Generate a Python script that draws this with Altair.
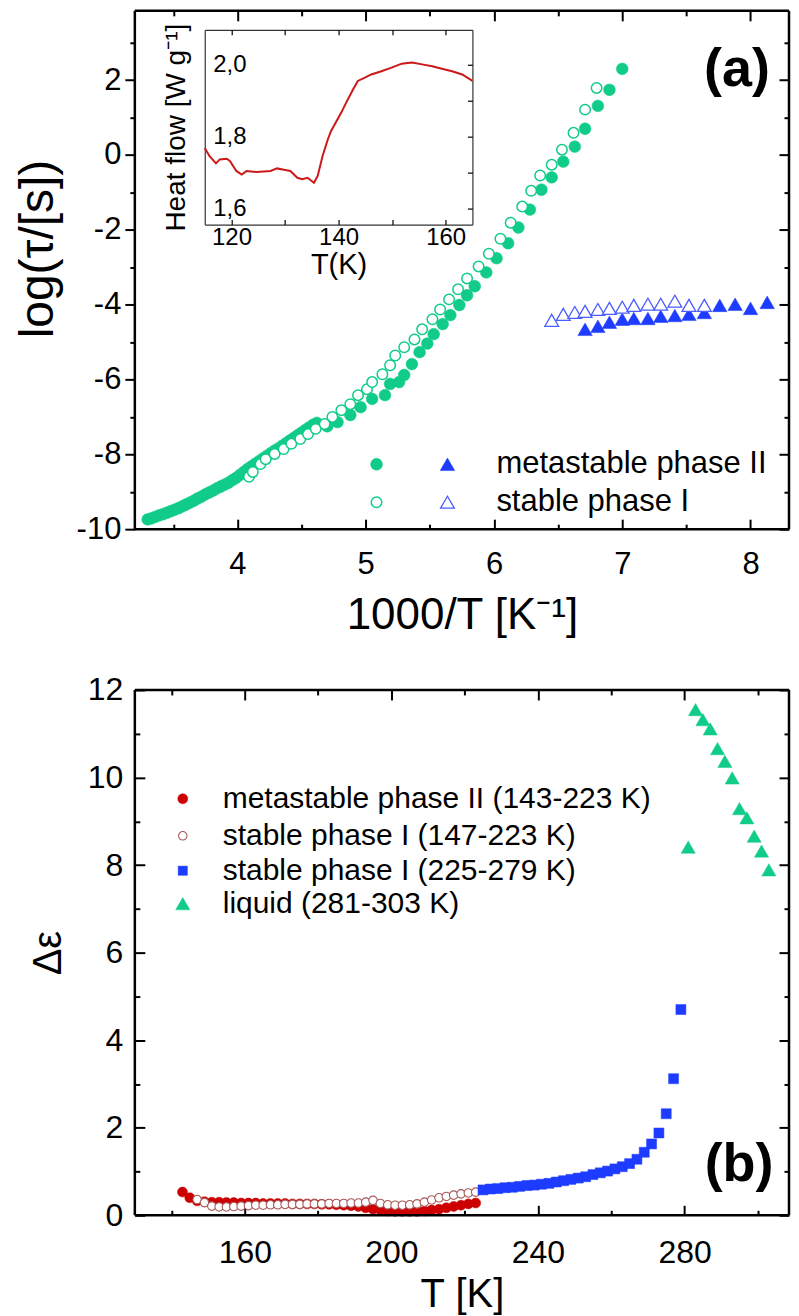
import altair as alt
import pandas as pd

FONT = "Liberation Sans"
GREEN = "#10cc88"
BLUE = "#1d3cff"
BLUE_OPEN = "#4b5dff"
RED = "#cc0000"
RED_OPEN = "#a85a5a"
DSC_RED = "#cc1818"

# ---------------- panel (a): log(tau) vs 1000/T ----------------
a_phase2_x = [3.30, 3.33, 3.36, 3.39, 3.42, 3.45, 3.48, 3.51, 3.54, 3.57, 3.60, 3.63, 3.66, 3.69, 3.72,
              3.75, 3.78, 3.81, 3.84, 3.87, 3.90, 3.93, 3.96, 3.99, 4.02, 4.05, 4.08, 4.11, 4.14, 4.17,
              4.20, 4.23, 4.26, 4.29, 4.32, 4.35, 4.38, 4.41, 4.44, 4.47, 4.50, 4.53, 4.56, 4.59, 4.62,
              4.70, 4.78, 4.88, 4.96, 5.05, 5.15, 5.19, 5.26, 5.30, 5.36, 5.42, 5.48, 5.53, 5.60, 5.66,
              5.73, 5.79, 5.85, 5.94, 6.02, 6.11, 6.19, 6.28, 6.37, 6.45, 6.54, 6.63, 6.71, 6.81, 6.90, 7.00]
a_phase2_y = [-9.74, -9.71, -9.67, -9.63, -9.60, -9.56, -9.52, -9.48, -9.44, -9.39, -9.34, -9.29, -9.24, -9.18, -9.13,
              -9.07, -9.02, -8.97, -8.91, -8.86, -8.81, -8.76, -8.69, -8.63, -8.55, -8.47, -8.39, -8.32, -8.25, -8.18,
              -8.11, -8.04, -7.97, -7.90, -7.84, -7.77, -7.70, -7.63, -7.56, -7.49, -7.42, -7.35, -7.28, -7.21, -7.16,
              -7.25, -7.14, -6.95, -6.74, -6.52, -6.42, -6.12, -6.07, -5.88, -5.59, -5.27, -5.04, -4.79, -4.52, -4.28,
              -4.01, -3.75, -3.51, -3.14, -2.76, -2.36, -1.94, -1.46, -0.93, -0.60, -0.18, 0.22, 0.70, 1.31, 1.74, 2.30]
a_phase1_x = [4.09, 4.12, 4.18, 4.22, 4.29, 4.36, 4.42, 4.49, 4.55, 4.61, 4.68, 4.74, 4.81, 4.88, 4.94,
              5.01, 5.05, 5.13, 5.19, 5.23, 5.30, 5.38, 5.44, 5.52, 5.58, 5.65, 5.72, 5.79, 5.88, 5.96,
              6.05, 6.13, 6.22, 6.29, 6.36, 6.45, 6.53, 6.62, 6.71, 6.80]
a_phase1_y = [-8.60, -8.47, -8.26, -8.13, -7.99, -7.86, -7.72, -7.59, -7.46, -7.32, -7.19, -7.00, -6.82, -6.66, -6.42,
              -6.26, -6.07, -5.86, -5.62, -5.36, -5.14, -4.93, -4.66, -4.39, -4.13, -3.86, -3.59, -3.30, -2.98, -2.64,
              -2.24, -1.81, -1.38, -0.96, -0.55, -0.26, 0.14, 0.59, 1.21, 1.79]
a_tri2_x = [6.71, 6.81, 6.90, 7.00, 7.09, 7.20, 7.30, 7.41, 7.52, 7.64, 7.76, 7.88, 8.00, 8.13]
a_tri2_y = [-4.66, -4.58, -4.47, -4.39, -4.37, -4.37, -4.31, -4.29, -4.26, -4.21, -4.02, -3.99, -4.10, -3.94]
a_tri1_x = [6.45, 6.54, 6.63, 6.71, 6.81, 6.90, 7.00, 7.09, 7.20, 7.30, 7.41, 7.52, 7.64]
a_tri1_y = [-4.42, -4.26, -4.21, -4.18, -4.13, -4.10, -4.07, -4.02, -3.99, -3.99, -3.91, -4.02, -4.02]
a_legend = ["metastable phase II", "stable phase I"]
a_xlim = [3.2, 8.3]
a_ylim = [-10, 3.85]
a_xmaj = [4, 5, 6, 7, 8]
a_xmin = [3.5, 4.5, 5.5, 6.5, 7.5]
a_ymaj = [-10, -8, -6, -4, -2, 0, 2]
a_ymin = [-9, -7, -5, -3, -1, 1, 3]

# inset: DSC heat flow
dsc_T = [115.0, 115.9, 117.1, 117.8, 119.1, 119.7, 120.9, 121.9, 122.8, 124.7, 127.3, 128.5, 129.8,
         131.0, 132.3, 133.2, 134.2, 135.4, 136.1, 137.0, 138.0, 138.6, 139.5, 140.5, 141.4, 142.7,
         143.6, 144.9, 146.1, 148.0, 149.9, 151.8, 153.7, 155.6, 157.5, 159.3, 161.2, 163.1, 165.0]
dsc_hf = [1.769, 1.746, 1.726, 1.737, 1.739, 1.733, 1.705, 1.695, 1.705, 1.702, 1.705, 1.712, 1.708,
          1.705, 1.686, 1.682, 1.686, 1.672, 1.691, 1.746, 1.793, 1.816, 1.840, 1.867, 1.894, 1.931,
          1.955, 1.964, 1.973, 1.982, 1.992, 2.003, 2.006, 2.001, 1.996, 1.989, 1.982, 1.973, 1.955]
i_xmaj = [120, 140, 160]
i_xticks = [120, 130, 140, 150, 160]
i_ymaj = [1.6, 1.8, 2.0]
i_yticks = [1.6, 1.7, 1.8, 1.9, 2.0]

# ---------------- panel (b): delta epsilon vs T ----------------
b_m2_T = [143, 145, 147, 149, 151, 153, 155, 157, 159, 161, 163, 165, 167, 169, 171, 173, 175, 177, 179, 181,
          183, 185, 187, 189, 191, 193, 195, 197, 199, 201, 203, 205, 207, 209, 211, 213, 215, 217, 219, 221, 223]
b_m2_e = [0.53, 0.40, 0.33, 0.31, 0.30, 0.30, 0.29, 0.29, 0.28, 0.28, 0.28, 0.27, 0.27, 0.27, 0.27, 0.26, 0.26,
          0.26, 0.26, 0.25, 0.25, 0.24, 0.23, 0.22, 0.20, 0.17, 0.14, 0.12, 0.10, 0.09, 0.09, 0.09, 0.09, 0.10,
          0.12, 0.14, 0.17, 0.20, 0.23, 0.26, 0.28]
b_s1_T = [147, 149, 151, 153, 155, 157, 159, 161, 163, 165, 167, 169, 171, 173, 175, 177, 179, 181, 183, 185,
          187, 189, 191, 193, 195, 197, 199, 201, 203, 205, 207, 209, 211, 213, 215, 217, 219, 221, 223]
b_s1_e = [0.36, 0.29, 0.21, 0.19, 0.19, 0.20, 0.21, 0.22, 0.23, 0.23, 0.24, 0.24, 0.25, 0.25, 0.25, 0.26, 0.26,
          0.26, 0.27, 0.27, 0.27, 0.28, 0.28, 0.30, 0.34, 0.27, 0.24, 0.23, 0.23, 0.24, 0.26, 0.30, 0.35, 0.40,
          0.43, 0.46, 0.49, 0.51, 0.53]
b_s1h_T = [225, 227, 229, 231, 233, 235, 237, 239, 241, 243, 245, 247, 249, 251, 253, 255, 257, 259, 261, 263,
           265, 267, 269, 271, 273, 275, 277, 279]
b_s1h_e = [0.58, 0.60, 0.61, 0.63, 0.64, 0.66, 0.68, 0.69, 0.71, 0.73, 0.76, 0.79, 0.82, 0.85, 0.88, 0.93, 0.97,
           1.01, 1.06, 1.11, 1.18, 1.28, 1.44, 1.63, 1.88, 2.32, 3.12, 4.70]
b_liq_T = [281, 283, 285, 287, 289, 291, 293, 295, 297, 299, 301, 303]
b_liq_e = [8.41, 11.55, 11.32, 11.11, 10.66, 10.37, 9.99, 9.29, 9.08, 8.66, 8.32, 7.89]
b_legend = ["metastable phase II (143-223 K)", "stable phase I (147-223 K)",
            "stable phase I (225-279 K)", "liquid (281-303 K)"]
b_xlim = [130, 308.5]
b_ylim = [0, 12]
b_xmaj = [160, 200, 240, 280]
b_xmin = [140, 180, 220, 260, 300]
b_ymaj = [0, 2, 4, 6, 8, 10, 12]
b_ymin = [1, 3, 5, 7, 9, 11]

# ---------------- helpers ----------------
WA, HA = 655, 519
WB, HB = 655, 526
one = pd.DataFrame({"k": [0]})
NUM = "'' + datum.value"


def df(x, y):
    return pd.DataFrame({"x": x, "y": y})


def axis(orient, values, **kw):
    spec = dict(orient=orient, values=values, grid=False, domain=False,
                tickColor="black", tickWidth=2, labelFont=FONT, labelColor="black",
                titleFont=FONT, titleColor="black", titleFontWeight="normal", labelFlush=False)
    spec.update(kw)
    return alt.Axis(**spec)


def tick_axis(orient, values, size, width=2):
    return axis(orient, values, labels=False, tickSize=size, offset=-size, tickWidth=width, title=None)


def pts(data, xs, ys, xa, ya, shape, size, fill, stroke, sw, opacity=1.0):
    return alt.Chart(data).mark_point(
        shape=shape, size=size, fill=fill, stroke=stroke, strokeWidth=sw,
        fillOpacity=1, strokeOpacity=1, opacity=opacity
    ).encode(x=alt.X("x:Q", scale=xs, axis=xa), y=alt.Y("y:Q", scale=ys, axis=ya))


def sym(x, y, shape, size, fill, stroke, sw):
    return alt.Chart(one).mark_point(
        shape=shape, size=size, fill=fill, stroke=stroke, strokeWidth=sw, fillOpacity=1, strokeOpacity=1
    ).encode(x=alt.value(x), y=alt.value(y))


def txt(x, y, s, size, weight="normal", align="left"):
    return alt.Chart(one).mark_text(
        text=s, font=FONT, fontSize=size, fontWeight=weight, align=align, baseline="middle", color="black"
    ).encode(x=alt.value(x), y=alt.value(y))


def frame_rules(xlim, ylim, xs, ys, w, h):
    vert = alt.Chart(pd.DataFrame({"x": xlim})).mark_rule(color="black", strokeWidth=2.5).encode(
        x=alt.X("x:Q", scale=xs, axis=None), y=alt.value(0), y2=alt.value(h))
    horiz = alt.Chart(pd.DataFrame({"y": ylim})).mark_rule(color="black", strokeWidth=2.5).encode(
        y=alt.Y("y:Q", scale=ys, axis=None), x=alt.value(0), x2=alt.value(w))
    return [vert, horiz]


# ---------------- panel (a) ----------------
XA = alt.Scale(domain=a_xlim, nice=False, zero=False)
YA = alt.Scale(domain=a_ylim, nice=False, zero=False)

ax_lab = axis("bottom", a_xmaj, ticks=False, tickSize=0, labelPadding=20, labelFontSize=31,
              labelExpr=NUM, title="1000/T [K⁻¹]", titleFontSize=44, titlePadding=14)
ay_lab = axis("left", a_ymaj, tickSize=10, labelPadding=4, labelFontSize=31, labelExpr=NUM,
              title="log(τ/[s])", titleFontSize=48, titlePadding=14, titleY=238)
ay_min = axis("left", a_ymin, labels=False, tickSize=5, title=None)

main_a = alt.layer(
    pts(df(a_phase2_x, a_phase2_y), XA, YA, ax_lab, ay_lab, "circle", 140, GREEN, GREEN, 0.5),
    pts(df(a_phase1_x, a_phase1_y), XA, YA, tick_axis("bottom", a_xmaj, 10), ay_min,
        "circle", 110, "white", GREEN, 1.5),
    pts(df(a_tri2_x, a_tri2_y), XA, YA, tick_axis("bottom", a_xmin, 5), tick_axis("right", a_ymaj, 10),
        "triangle-up", 210, BLUE, BLUE, 0.5),
    pts(df(a_tri1_x, a_tri1_y), XA, YA, tick_axis("top", a_xmaj, 10), tick_axis("right", a_ymin, 5),
        "triangle-up", 190, "white", BLUE_OPEN, 1.3),
    pts(df(a_phase2_x, a_phase2_y), XA, YA, tick_axis("top", a_xmin, 5), None,
        "circle", 10, GREEN, GREEN, 0.5, opacity=0),
    *frame_rules(a_xlim, a_ylim, XA, YA, WA, HA),
    sym(242, 454, "circle", 140, GREEN, GREEN, 0.5),
    sym(313, 454, "triangle-up", 210, BLUE, BLUE, 0.5),
    txt(362, 454, a_legend[0], 31),
    sym(242, 492, "circle", 110, "white", GREEN, 1.5),
    sym(313, 492, "triangle-up", 190, "white", BLUE_OPEN, 1.3),
    txt(362, 492, a_legend[1], 31),
    txt(603, 59, "(a)", 54, weight="bold", align="center"),
).resolve_axis(x="independent", y="independent")

I_TOP, I_BOT, I_LEFT, I_RIGHT = 19, 214, 70, 338
XI = alt.Scale(domain=[115, 165], range=[I_LEFT, I_RIGHT], nice=False, zero=False)
YI = alt.Scale(domain=[1.556, 2.097], range=[I_BOT, I_TOP], nice=False, zero=False)
dsc = pd.DataFrame({"T": dsc_T, "hf": dsc_hf})

ix_lab = axis("bottom", i_xmaj, ticks=False, tickSize=0, domain=True, domainColor="#333", domainWidth=1.2,
              offset=I_BOT - HA, labelFontSize=24, labelPadding=1, labelExpr=NUM, minExtent=0,
              title="T(K)", titleFontSize=29, titlePadding=1)
iy_lab = axis("left", i_ymaj, ticks=False, tickSize=0, domain=True, domainColor="#333", domainWidth=1.2,
              offset=-I_LEFT, labelAlign="left", labelPadding=-8, labelFontSize=24, minExtent=0,
              labelExpr="replace(format(datum.value, '.1f'), '.', ',')",
              title="Heat flow [W g⁻¹]", titleFontSize=28, titlePadding=14)
ix_top = axis("top", [120], ticks=False, labels=False, domain=True, domainColor="#333", domainWidth=1.2,
              offset=-I_TOP, title=None)
iy_right = axis("right", [2.0], ticks=False, labels=False, domain=True, domainColor="#333", domainWidth=1.2,
                offset=I_RIGHT - WA, title=None)
ix_ticks_b = axis("bottom", i_xticks, labels=False, tickSize=5, tickWidth=1.2, offset=I_BOT - 5 - HA, title=None)
ix_ticks_t = axis("top", i_xticks, labels=False, tickSize=5, tickWidth=1.2, offset=-(I_TOP + 5), title=None)
iy_ticks_r = axis("right", i_yticks, labels=False, tickSize=5, tickWidth=1.2, offset=I_RIGHT - 5 - WA, title=None)


def dsc_line(xa, ya, op):
    return alt.Chart(dsc).mark_line(color=DSC_RED, strokeWidth=2, opacity=op).encode(
        x=alt.X("T:Q", scale=XI, axis=xa), y=alt.Y("hf:Q", scale=YI, axis=ya))


inset = alt.layer(
    dsc_line(ix_lab, iy_lab, 1),
    dsc_line(ix_ticks_b, iy_right, 0),
    dsc_line(ix_top, iy_ticks_r, 0),
    dsc_line(ix_ticks_t, None, 0),
).resolve_axis(x="independent", y="independent")

panel_a = alt.layer(main_a, inset).resolve_scale(x="independent", y="independent").properties(
    width=WA, height=HA)

# ---------------- panel (b) ----------------
XB = alt.Scale(domain=b_xlim, nice=False, zero=False)
YB = alt.Scale(domain=b_ylim, nice=False, zero=False)

bx_lab = axis("bottom", b_xmaj, ticks=False, tickSize=0, labelPadding=22, labelFontSize=32,
              labelExpr=NUM, title="T [K]", titleFontSize=40, titlePadding=6)
by_lab = axis("left", b_ymaj, ticks=False, tickSize=0, labelPadding=12, labelFontSize=32,
              labelExpr=NUM, title="Δε", titleFontSize=40, titlePadding=19)

panel_b = alt.layer(
    pts(df(b_m2_T, b_m2_e), XB, YB, bx_lab, by_lab, "circle", 100, RED, RED, 0.5),
    pts(df(b_s1_T, b_s1_e), XB, YB, tick_axis("bottom", b_xmaj, 10), tick_axis("left", b_ymaj, 10),
        "circle", 72, "white", RED_OPEN, 1.1),
    pts(df(b_s1h_T, b_s1h_e), XB, YB, tick_axis("bottom", b_xmin, 5), tick_axis("left", b_ymin, 5),
        "square", 100, BLUE, BLUE, 0.5),
    pts(df(b_liq_T, b_liq_e), XB, YB, tick_axis("top", b_xmaj, 10), tick_axis("right", b_ymaj, 10),
        "triangle-up", 200, GREEN, GREEN, 0.5),
    pts(df(b_liq_T, b_liq_e), XB, YB, tick_axis("top", b_xmin, 5), tick_axis("right", b_ymin, 5),
        "circle", 10, GREEN, GREEN, 0.5, opacity=0),
    *frame_rules(b_xlim, b_ylim, XB, YB, WB, HB),
    sym(48, 109, "circle", 100, RED, RED, 0.5),
    txt(88, 109, b_legend[0], 30),
    sym(48, 146, "circle", 72, "white", RED_OPEN, 1.1),
    txt(88, 146, b_legend[1], 30),
    sym(48, 181, "square", 85, BLUE, BLUE, 0.5),
    txt(88, 181, b_legend[2], 30),
    sym(48, 214, "triangle-up", 200, GREEN, GREEN, 0.5),
    txt(88, 214, b_legend[3], 30),
    txt(605, 476, "(b)", 54, weight="bold", align="center"),
).resolve_axis(x="independent", y="independent").properties(width=WB, height=HB)

chart = alt.vconcat(panel_a, panel_b, spacing=37).properties(
    padding={"left": 6, "top": 0, "right": 0, "bottom": 0}
).configure(font=FONT).configure_view(stroke=None)

chart.save("out.html", embed_options={"renderer": "svg", "actions": False})
